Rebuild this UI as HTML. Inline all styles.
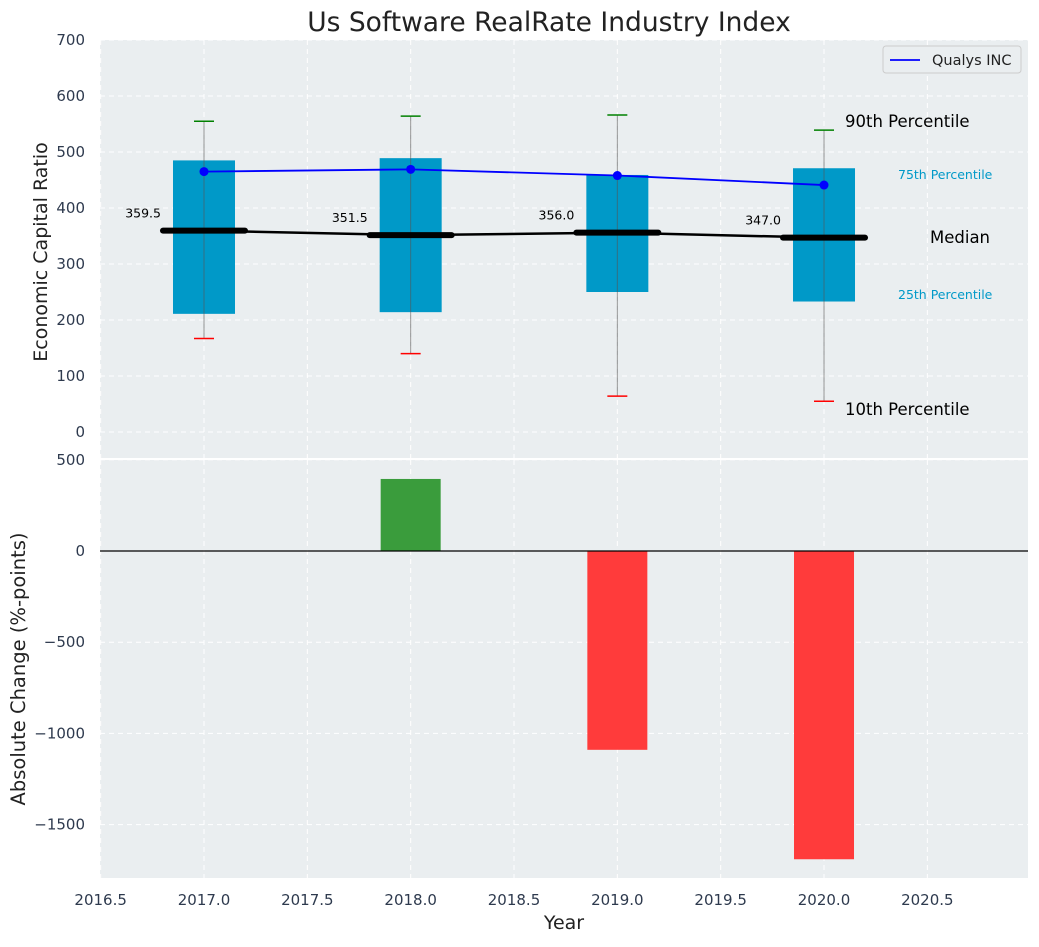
<!DOCTYPE html>
<html><head><meta charset="utf-8"><style>
body{margin:0;background:#fff;}
svg text{font-family:"DejaVu Sans","Liberation Sans",sans-serif;}
</style></head><body>
<svg id="c" width="1039" height="942" xmlns="http://www.w3.org/2000/svg"></svg>
<script>
const years=[2017,2018,2019,2020];
const p10=[167,140,64,55];
const p25=[211,214,250,233];
const medians=[359.5,351.5,356.0,347.0];
const p75=[485,489,459,471];
const p90=[555,564,566,539];
const qualys=[465,469,458,441];
const changes=[0,395,-1090,-1690];
const topTicks=[0,100,200,300,400,500,600,700];
const botTicks=[500,0,-500,-1000,-1500];
const xTicks=[2016.5,2017.0,2017.5,2018.0,2018.5,2019.0,2019.5,2020.0,2020.5];

const svg=document.getElementById('c');
const NS='http://www.w3.org/2000/svg';
function mk(t,a,txt){const e=document.createElementNS(NS,t);for(const k in a)e.setAttribute(k,a[k]);if(txt!==undefined)e.textContent=txt;svg.appendChild(e);return e;}
const X0=100,X1=1028;
const x=v=>204+(v-2017)*206.67;
const yT=v=>432-v*0.56;
const yB=v=>551-v*0.1824;

let e=mk('rect',{x:X0,y:40,width:X1-X0,height:418,fill:'#eaeef0'});


e=mk('rect',{x:X0,y:460,width:X1-X0,height:418,fill:'#eaeef0'});



topTicks.forEach(t=>{
  e=mk('line',{x1:X0,x2:X1,y1:yT(t),y2:yT(t),stroke:'#fff','stroke-dasharray':'5,4','stroke-width':1});
  
  
  e=mk('text',{x:85,y:yT(t)+5,'text-anchor':'end','font-size':15,fill:'#2e3a4e'},String(t));
  
  
});
botTicks.forEach(t=>{
  e=mk('line',{x1:X0,x2:X1,y1:yB(t),y2:yB(t),stroke:'#fff','stroke-dasharray':'5,4','stroke-width':1});
  
  
  e=mk('text',{x:85,y:yB(t)+5,'text-anchor':'end','font-size':15,fill:'#2e3a4e'},t<0?'\u2212'+(-t):String(t));
  
  
});
xTicks.forEach(t=>{
  [[40,458],[460,878]].forEach(r=>{
    e=mk('line',{x1:x(t),x2:x(t),y1:r[0],y2:r[1],stroke:'#fff','stroke-dasharray':'5,4','stroke-width':1});
    
    
  });
  e=mk('text',{x:x(t),y:905,'text-anchor':'middle','font-size':15,fill:'#2e3a4e'},t.toFixed(1));
  
  
});

years.forEach((yr,i)=>{
  const cx=x(yr);
  e=mk('rect',{x:cx-31,y:yT(p75[i]),width:62,height:yT(p25[i])-yT(p75[i]),fill:'#0099c8'});
  
  
  e=mk('line',{x1:cx,x2:cx,y1:yT(p90[i]),y2:yT(p10[i]),stroke:'#555',opacity:0.6,'stroke-width':1});
  
  
  e=mk('line',{x1:cx-10,x2:cx+10,y1:yT(p90[i]),y2:yT(p90[i]),stroke:'green','stroke-width':1.5});
  
  
  e=mk('line',{x1:cx-10,x2:cx+10,y1:yT(p10[i]),y2:yT(p10[i]),stroke:'red','stroke-width':1.5});
  
  
});
e=mk('polyline',{points:years.map((yr,i)=>x(yr)+','+yT(medians[i])).join(' '),fill:'none',stroke:'#000','stroke-width':2.5});


years.forEach((yr,i)=>{
  const cx=x(yr);
  e=mk('line',{x1:cx-41,x2:cx+41,y1:yT(medians[i]),y2:yT(medians[i]),stroke:'#000','stroke-width':6,'stroke-linecap':'round'});
  
  
  e=mk('text',{x:cx-43,y:yT(medians[i])-13,'text-anchor':'end','font-size':12.5,fill:'#000'},medians[i].toFixed(1));
  
  
});
e=mk('polyline',{points:years.map((yr,i)=>x(yr)+','+yT(qualys[i])).join(' '),fill:'none',stroke:'#0000ff','stroke-width':1.8});


years.forEach((yr,i)=>{
  e=mk('circle',{cx:x(yr),cy:yT(qualys[i]),r:4.5,fill:'#0000ff'});
  
  
});
const ann=[['90th Percentile',845,127,16.5,'#000'],['75th Percentile',898,179,12.5,'#0099c8'],['Median',930,243,16.5,'#000'],['25th Percentile',898,299,12.5,'#0099c8'],['10th Percentile',845,415,16.5,'#000']];
ann.forEach(a=>{
  e=mk('text',{x:a[1],y:a[2],'font-size':a[3],fill:a[4]},a[0]);
  
  
});
e=mk('rect',{x:883,y:46,width:138,height:27,rx:3,fill:'#eaeef0',stroke:'#ccc'});


e=mk('line',{x1:890,x2:920,y1:60,y2:60,stroke:'#0000ff','stroke-width':1.8});


e=mk('text',{x:932,y:65,'font-size':14.5,fill:'#222'},'Qualys INC');



years.forEach((yr,i)=>{
  const v=changes[i];if(v===0)return;
  const y0=yB(Math.max(v,0)),y1=yB(Math.min(v,0));
  e=mk('rect',{x:x(yr)-30,y:y0,width:60,height:y1-y0,fill:v>0?'#3a9c3c':'#ff3b3b'});
  
  
});
e=mk('line',{x1:X0,x2:X1,y1:yB(0),y2:yB(0),stroke:'#000','stroke-width':1.2});



e=mk('text',{x:549,y:31,'text-anchor':'middle','font-size':26.5,fill:'#222'},'Us Software RealRate Industry Index');


e=mk('text',{x:47,y:252,'text-anchor':'middle','font-size':19,fill:'#222',transform:'rotate(-90 47 252)'},'Economic Capital Ratio');


e=mk('text',{x:25,y:669,'text-anchor':'middle','font-size':19.5,fill:'#222',transform:'rotate(-90 25 669)'},'Absolute Change (%-points)');


e=mk('text',{x:564,y:929,'text-anchor':'middle','font-size':19,fill:'#222'},'Year');


</script>
</body></html>
